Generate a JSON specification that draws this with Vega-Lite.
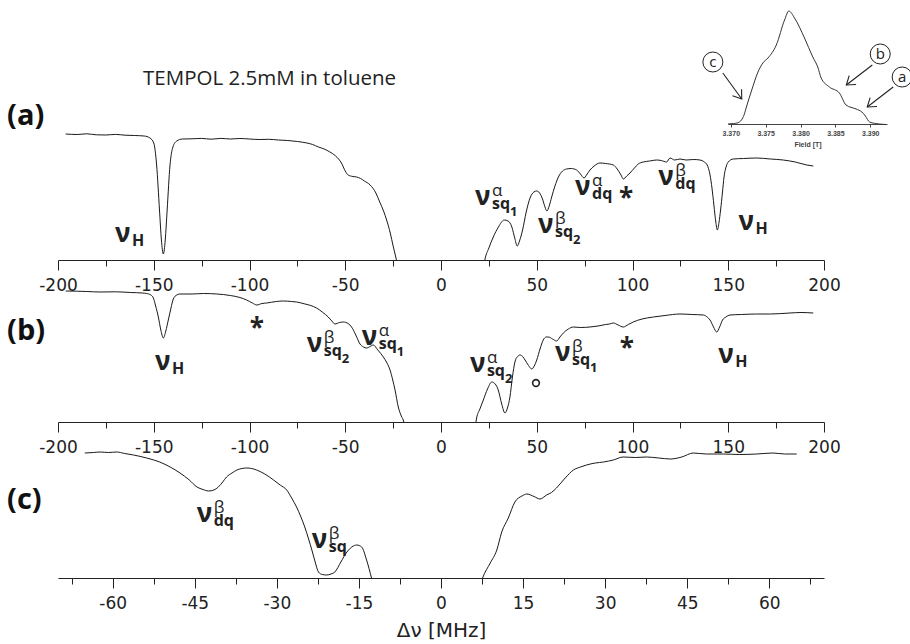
{
  "$schema": "https://vega.github.io/schema/vega-lite/v6.json",
  "padding": {"left": 7, "top": 8, "right": 0, "bottom": 0},
  "background": "white",
  "bounds": "flush",
  "spacing": 0,
  "config": {"view": {"stroke": null}, "axis": {"grid": false}},
  "datasets": {
    "traceA": [
      {"v":-196,"I":1.26},{"v":-190,"I":1.255},{"v":-185,"I":1.262},{"v":-180,"I":1.252},{"v":-175,"I":1.25},{"v":-170,"I":1.256},{"v":-165,"I":1.248},{"v":-160,"I":1.245},{"v":-155,"I":1.24},{"v":-152,"I":1.22},{"v":-150,"I":1.17},{"v":-148.5,"I":0.95},{"v":-147,"I":0.5},{"v":-146,"I":0.2},{"v":-145,"I":0.06},{"v":-144,"I":0.2},{"v":-143,"I":0.5},{"v":-141.5,"I":0.95},{"v":-140,"I":1.13},{"v":-138,"I":1.19},{"v":-135,"I":1.21},{"v":-130,"I":1.212},{"v":-125,"I":1.216},{"v":-120,"I":1.208},{"v":-115,"I":1.216},{"v":-110,"I":1.21},{"v":-105,"I":1.215},{"v":-100,"I":1.21},{"v":-95,"I":1.205},{"v":-90,"I":1.207},{"v":-85,"I":1.2},{"v":-80,"I":1.195},{"v":-75,"I":1.185},{"v":-70,"I":1.17},{"v":-67,"I":1.155},{"v":-64,"I":1.13},{"v":-61,"I":1.11},{"v":-58,"I":1.08},{"v":-55,"I":1.04},{"v":-52,"I":0.97},{"v":-50,"I":0.89},{"v":-48.5,"I":0.85},{"v":-46,"I":0.835},{"v":-44,"I":0.83},{"v":-42,"I":0.815},{"v":-40,"I":0.79},{"v":-37,"I":0.75},{"v":-34,"I":0.67},{"v":-32,"I":0.58},{"v":-30,"I":0.49},{"v":-28.4,"I":0.4},{"v":-26.5,"I":0.27},{"v":-25,"I":0.14},{"v":-23.5,"I":0.02},{"v":-22,"I":-0.12},{"v":0,"I":-1},{"v":22,"I":-0.1},{"v":23,"I":0.01},{"v":25,"I":0.12},{"v":27.3,"I":0.23},{"v":30,"I":0.33},{"v":33,"I":0.4},{"v":35,"I":0.39},{"v":37,"I":0.33},{"v":38.5,"I":0.22},{"v":39.8,"I":0.14},{"v":41,"I":0.19},{"v":42.6,"I":0.3},{"v":44.5,"I":0.48},{"v":46.5,"I":0.62},{"v":48.5,"I":0.68},{"v":50,"I":0.69},{"v":51.5,"I":0.67},{"v":53,"I":0.61},{"v":54.3,"I":0.53},{"v":55.3,"I":0.49},{"v":56.5,"I":0.54},{"v":57.8,"I":0.63},{"v":59.5,"I":0.74},{"v":61.3,"I":0.83},{"v":63.5,"I":0.89},{"v":65.6,"I":0.91},{"v":68,"I":0.915},{"v":70.8,"I":0.9},{"v":72.8,"I":0.86},{"v":74.7,"I":0.82},{"v":76,"I":0.85},{"v":77.8,"I":0.9},{"v":80,"I":0.94},{"v":83,"I":0.97},{"v":86,"I":0.965},{"v":90,"I":0.95},{"v":92,"I":0.91},{"v":94,"I":0.85},{"v":95.2,"I":0.81},{"v":97,"I":0.84},{"v":98.7,"I":0.87},{"v":101,"I":0.92},{"v":103,"I":0.96},{"v":105.6,"I":0.98},{"v":109,"I":0.99},{"v":112.6,"I":1.0},{"v":115,"I":0.995},{"v":117.8,"I":0.98},{"v":119.6,"I":1.02},{"v":122,"I":1.0},{"v":124.8,"I":1.01},{"v":128,"I":1.0},{"v":132,"I":1.005},{"v":135.2,"I":1.0},{"v":137.5,"I":0.98},{"v":139,"I":0.95},{"v":140.5,"I":0.85},{"v":141.5,"I":0.72},{"v":142.5,"I":0.55},{"v":143.5,"I":0.38},{"v":144.3,"I":0.3},{"v":145.2,"I":0.38},{"v":146,"I":0.5},{"v":147,"I":0.68},{"v":147.8,"I":0.83},{"v":149,"I":0.94},{"v":150,"I":0.98},{"v":152.6,"I":1.01},{"v":158,"I":1.015},{"v":164.8,"I":1.02},{"v":172,"I":1.01},{"v":178.7,"I":1.0},{"v":185,"I":0.98},{"v":191,"I":0.95},{"v":194.4,"I":0.94}
    ],
    "traceB": [
      {"v":-196,"I":1.31},{"v":-190,"I":1.308},{"v":-185,"I":1.305},{"v":-178,"I":1.3},{"v":-170,"I":1.302},{"v":-162,"I":1.295},{"v":-156,"I":1.29},{"v":-153.7,"I":1.285},{"v":-151.5,"I":1.27},{"v":-150.2,"I":1.24},{"v":-149,"I":1.16},{"v":-147.6,"I":1.05},{"v":-146.3,"I":0.92},{"v":-145,"I":0.84},{"v":-143.7,"I":0.91},{"v":-142.4,"I":1.02},{"v":-141,"I":1.14},{"v":-139.8,"I":1.23},{"v":-138,"I":1.27},{"v":-136.3,"I":1.28},{"v":-130,"I":1.28},{"v":-124,"I":1.285},{"v":-117,"I":1.28},{"v":-110,"I":1.265},{"v":-105,"I":1.245},{"v":-101.5,"I":1.22},{"v":-98.5,"I":1.19},{"v":-96.2,"I":1.17},{"v":-93.5,"I":1.185},{"v":-91,"I":1.19},{"v":-86,"I":1.205},{"v":-82.3,"I":1.21},{"v":-78,"I":1.205},{"v":-75.4,"I":1.2},{"v":-71,"I":1.18},{"v":-68,"I":1.165},{"v":-65,"I":1.14},{"v":-62,"I":1.1},{"v":-58.9,"I":1.05},{"v":-57,"I":1.01},{"v":-55.4,"I":0.98},{"v":-53,"I":0.995},{"v":-51,"I":1.0},{"v":-48.5,"I":0.985},{"v":-46.7,"I":0.95},{"v":-44.5,"I":0.87},{"v":-42.3,"I":0.78},{"v":-40.5,"I":0.75},{"v":-38.8,"I":0.74},{"v":-37,"I":0.755},{"v":-35.4,"I":0.77},{"v":-33,"I":0.72},{"v":-30.1,"I":0.65},{"v":-28.2,"I":0.59},{"v":-26.6,"I":0.52},{"v":-25.2,"I":0.42},{"v":-24,"I":0.32},{"v":-22.3,"I":0.15},{"v":-20.5,"I":0.05},{"v":-19.7,"I":0.02},{"v":-18.5,"I":-0.1},{"v":0,"I":-1},{"v":17.5,"I":-0.1},{"v":18.6,"I":0.04},{"v":20.3,"I":0.13},{"v":22.1,"I":0.22},{"v":24.3,"I":0.33},{"v":26.5,"I":0.4},{"v":28.3,"I":0.38},{"v":29.9,"I":0.32},{"v":31.7,"I":0.18},{"v":33.4,"I":0.09},{"v":34.7,"I":0.14},{"v":36,"I":0.25},{"v":37.3,"I":0.45},{"v":38.6,"I":0.6},{"v":40,"I":0.655},{"v":41.3,"I":0.67},{"v":42.6,"I":0.655},{"v":43.9,"I":0.62},{"v":45.7,"I":0.565},{"v":47.4,"I":0.53},{"v":48.7,"I":0.56},{"v":50,"I":0.62},{"v":51.7,"I":0.73},{"v":53.4,"I":0.82},{"v":55,"I":0.85},{"v":56,"I":0.85},{"v":58.3,"I":0.83},{"v":60.4,"I":0.81},{"v":62.1,"I":0.85},{"v":63.9,"I":0.89},{"v":66.5,"I":0.93},{"v":69.1,"I":0.95},{"v":73,"I":0.945},{"v":77.8,"I":0.95},{"v":82,"I":0.96},{"v":86,"I":0.975},{"v":88,"I":0.98},{"v":90,"I":0.99},{"v":92.5,"I":0.97},{"v":95.2,"I":0.95},{"v":97.8,"I":0.975},{"v":100.4,"I":1.0},{"v":105,"I":1.03},{"v":110.9,"I":1.05},{"v":117,"I":1.065},{"v":124.8,"I":1.08},{"v":131,"I":1.075},{"v":137,"I":1.07},{"v":139,"I":1.05},{"v":140.5,"I":1.02},{"v":142.3,"I":0.95},{"v":144,"I":0.9},{"v":145.5,"I":0.95},{"v":147,"I":1.02},{"v":148.8,"I":1.05},{"v":150.9,"I":1.07},{"v":157,"I":1.075},{"v":164.8,"I":1.08},{"v":172,"I":1.08},{"v":182.2,"I":1.09},{"v":188,"I":1.095},{"v":194.4,"I":1.09}
    ],
    "traceC": [
      {"v":-65.1,"I":1.25},{"v":-63.5,"I":1.255},{"v":-62.3,"I":1.26},{"v":-60.8,"I":1.255},{"v":-59.3,"I":1.26},{"v":-57.8,"I":1.245},{"v":-56.2,"I":1.23},{"v":-53.8,"I":1.2},{"v":-51.4,"I":1.16},{"v":-49.5,"I":1.11},{"v":-47.7,"I":1.05},{"v":-46,"I":0.98},{"v":-44.6,"I":0.91},{"v":-43.5,"I":0.885},{"v":-42.5,"I":0.87},{"v":-41.5,"I":0.88},{"v":-40.7,"I":0.91},{"v":-39.9,"I":0.96},{"v":-39.2,"I":1.01},{"v":-38.2,"I":1.05},{"v":-37.3,"I":1.08},{"v":-36.4,"I":1.095},{"v":-35.5,"I":1.1},{"v":-34.6,"I":1.095},{"v":-33.7,"I":1.08},{"v":-32.2,"I":1.04},{"v":-30.6,"I":0.98},{"v":-29.4,"I":0.93},{"v":-28.2,"I":0.88},{"v":-27.3,"I":0.8},{"v":-26.4,"I":0.71},{"v":-25.6,"I":0.61},{"v":-24.9,"I":0.51},{"v":-24.2,"I":0.39},{"v":-23.6,"I":0.28},{"v":-23,"I":0.16},{"v":-22.4,"I":0.06},{"v":-21.7,"I":0.035},{"v":-20.9,"I":0.03},{"v":-20.1,"I":0.04},{"v":-19.4,"I":0.06},{"v":-18.3,"I":0.16},{"v":-17.2,"I":0.26},{"v":-16.3,"I":0.31},{"v":-15.4,"I":0.33},{"v":-14.5,"I":0.31},{"v":-13.6,"I":0.18},{"v":-12.7,"I":0.0},{"v":-12,"I":-0.15},{"v":0,"I":-1},{"v":7,"I":-0.1},{"v":7.6,"I":0.0},{"v":9,"I":0.15},{"v":10.2,"I":0.28},{"v":11.1,"I":0.46},{"v":12.3,"I":0.6},{"v":13.5,"I":0.76},{"v":14.8,"I":0.82},{"v":15.7,"I":0.84},{"v":17,"I":0.815},{"v":18.1,"I":0.79},{"v":19.3,"I":0.83},{"v":20.2,"I":0.855},{"v":21.1,"I":0.9},{"v":22.7,"I":1.0},{"v":24.2,"I":1.08},{"v":25.5,"I":1.11},{"v":26.6,"I":1.13},{"v":28.2,"I":1.15},{"v":29.7,"I":1.16},{"v":31.5,"I":1.18},{"v":33.3,"I":1.21},{"v":35.5,"I":1.205},{"v":37.6,"I":1.21},{"v":39.8,"I":1.2},{"v":41.9,"I":1.19},{"v":44,"I":1.21},{"v":46.1,"I":1.25},{"v":48.5,"I":1.24},{"v":51.6,"I":1.24},{"v":54.5,"I":1.235},{"v":57.7,"I":1.24},{"v":60.7,"I":1.25},{"v":62.8,"I":1.24},{"v":65,"I":1.24}
    ],
    "inset": [
      {"f":3.3696,"J":0.0},{"f":3.3704,"J":0.005},{"f":3.3709,"J":0.01},{"f":3.37153,"J":0.04},{"f":3.3719,"J":0.09},{"f":3.37224,"J":0.17},{"f":3.37296,"J":0.33},{"f":3.3739,"J":0.52},{"f":3.3746,"J":0.61},{"f":3.37533,"J":0.66},{"f":3.37653,"J":0.79},{"f":3.37771,"J":1.04},{"f":3.37833,"J":1.13},{"f":3.37914,"J":1.06},{"f":3.38057,"J":0.86},{"f":3.38176,"J":0.67},{"f":3.38247,"J":0.57},{"f":3.38296,"J":0.46},{"f":3.38414,"J":0.37},{"f":3.38557,"J":0.31},{"f":3.38653,"J":0.19},{"f":3.38796,"J":0.15},{"f":3.3888,"J":0.12},{"f":3.3893,"J":0.08},{"f":3.3899,"J":0.02},{"f":3.3913,"J":0.0},{"f":3.3923,"J":-0.005}
    ],
    "circles": [
      {"f":3.36743,"J":0.62,"t":"c"},{"f":3.39143,"J":0.70,"t":"b"},{"f":3.39457,"J":0.47,"t":"a"}
    ],
    "arrows": [
      {"id":"c","f":3.36886,"J":0.51,"f2":3.37157,"J2":0.25},
      {"id":"b","f":3.39029,"J":0.59,"f2":3.38657,"J2":0.39},
      {"id":"a","f":3.39329,"J":0.37,"f2":3.38957,"J2":0.17}
    ],
    "labA": [
      {"v":-170.2,"I":0.18,"sup":"","sub":"H","ss":""},
      {"v":155.3,"I":0.30,"sup":"","sub":"H","ss":""},
      {"v":17.75,"I":0.55,"sup":"α","sub":"sq","ss":"1"},
      {"v":50.65,"I":0.27,"sup":"β","sub":"sq","ss":"2"},
      {"v":70.0,"I":0.65,"sup":"α","sub":"dq","ss":""},
      {"v":113.5,"I":0.75,"sup":"β","sub":"dq","ss":""}
    ],
    "labB": [
      {"v":-149.3,"I":0.52,"sup":"","sub":"H","ss":""},
      {"v":-70.1,"I":0.70,"sup":"β","sub":"sq","ss":"2"},
      {"v":-41.4,"I":0.77,"sup":"α","sub":"sq","ss":"1"},
      {"v":15.1,"I":0.50,"sup":"α","sub":"sq","ss":"2"},
      {"v":59.5,"I":0.61,"sup":"β","sub":"sq","ss":"1"},
      {"v":144.8,"I":0.59,"sup":"","sub":"H","ss":""}
    ],
    "labC": [
      {"v":-44.65,"I":0.56,"sup":"β","sub":"dq","ss":""},
      {"v":-23.6,"I":0.30,"sup":"β","sub":"sq","ss":""}
    ]
  },
  "vconcat": [
    {
      "width": 766,
      "height": 252,
      "layer": [
        {
          "encoding": {
            "x": {"field": "v", "type": "quantitative", "scale": {"domain": [-200, 200], "nice": false, "zero": false},
              "axis": {"values": [-200,-175,-150,-125,-100,-75,-50,-25,0,25,50,75,100,125,150,175,200], "labelExpr": "datum.value % 50 === 0 ? '' + datum.value : ''", "tickSize": {"condition": {"test": "datum.value % 50 === 0", "value": 10}, "value": 6}, "labelPadding": 7, "labelFont": "DejaVu Sans", "labelFontSize": 17, "labelColor": "#222", "domainColor": "#222", "tickColor": "#222", "title": null, "labelFlush": false, "labelOverlap": false, "grid": false}},
            "y": {"field": "I", "type": "quantitative", "scale": {"domain": [0, 2.52], "nice": false, "zero": false}, "axis": null}
          },
          "layer": [
            {"data": {"name": "traceA"}, "mark": {"type": "line", "clip": true, "strokeWidth": 1, "color": "#1a1a1a", "interpolate": "monotone"}},
            {"data": {"name": "labA"}, "mark": {"type": "text", "text": "ν", "font": "Open Sans", "fontWeight": "bold", "fontSize": 26, "align": "left", "baseline": "alphabetic", "color": "#222"}},
            {"data": {"name": "labA"}, "mark": {"type": "text", "font": "Open Sans", "fontSize": 17, "align": "left", "baseline": "alphabetic", "dx": 17, "dy": -9, "color": "#222"}, "encoding": {"text": {"field": "sup"}}},
            {"data": {"name": "labA"}, "mark": {"type": "text", "font": "Open Sans", "fontWeight": "bold", "fontSize": 16, "align": "left", "baseline": "alphabetic", "dx": 17, "dy": 4, "color": "#222"}, "encoding": {"text": {"field": "sub"}}},
            {"data": {"name": "labA"}, "mark": {"type": "text", "font": "Open Sans", "fontWeight": "bold", "fontSize": 13, "align": "left", "baseline": "alphabetic", "dx": 35, "dy": 11, "color": "#222"}, "encoding": {"text": {"field": "ss"}}},
            {"data": {"values": [{"v": 96.6, "I": 0.53, "t": "*"}]}, "mark": {"type": "text", "font": "Open Sans", "fontWeight": "bold", "fontSize": 26, "align": "center", "baseline": "alphabetic", "color": "#222"}, "encoding": {"text": {"field": "t"}}},
            {"data": {"values": [{"v": -226.6, "I": 1.35, "t": "(a)"}]}, "mark": {"type": "text", "font": "Open Sans", "fontWeight": "bold", "fontSize": 29, "align": "left", "baseline": "alphabetic", "color": "#111"}, "encoding": {"text": {"field": "t"}}},
            {"data": {"values": [{"v": -155.6, "I": 1.75, "t": "TEMPOL 2.5mM in toluene"}]}, "mark": {"type": "text", "font": "Open Sans", "fontSize": 20.5, "align": "left", "baseline": "alphabetic", "color": "#222"}, "encoding": {"text": {"field": "t"}}}
          ]
        },
        {
          "encoding": {
            "x": {"field": "f", "type": "quantitative", "scale": {"domain": [3.3696, 3.3924], "range": [670, 829], "nice": false, "zero": false},
              "axis": {"orient": "bottom", "offset": -136, "values": [3.37, 3.375, 3.38, 3.385, 3.39], "format": ".3f", "tickSize": 3, "labelFont": "Liberation Sans", "labelFontSize": 7, "labelFontWeight": "bold", "labelColor": "#444", "labelPadding": 2, "title": "Field [T]", "titleFont": "Liberation Sans", "titleFontSize": 7, "titleFontWeight": "bold", "titleColor": "#444", "titlePadding": 4, "domainColor": "#444", "tickColor": "#444", "labelFlush": false, "labelOverlap": false, "grid": false}},
            "y": {"field": "J", "type": "quantitative", "scale": {"domain": [0, 1], "range": [116, 16], "nice": false, "zero": false}, "axis": null}
          },
          "layer": [
            {"data": {"name": "inset"}, "mark": {"type": "line", "strokeWidth": 1, "color": "#333", "interpolate": "monotone"}},
            {"data": {"name": "circles"}, "mark": {"type": "point", "shape": "circle", "size": 400, "filled": false, "stroke": "#222", "strokeWidth": 1, "opacity": 1}},
            {"data": {"name": "circles"}, "mark": {"type": "text", "font": "Open Sans", "fontSize": 15, "align": "center", "baseline": "middle", "color": "#222"}, "encoding": {"text": {"field": "t"}}},
            {"data": {"name": "arrows"}, "mark": {"type": "rule", "strokeWidth": 1.1, "color": "#222"}, "encoding": {"x2": {"field": "f2"}, "y2": {"field": "J2"}}},
            {"data": {"name": "arrows"}, "transform": [{"filter": "datum.id === 'c'"}], "mark": {"type": "point", "shape": "M -1 -0.7 L 0 0 L -1 0.7", "size": 256, "filled": false, "stroke": "#222", "strokeWidth": 1.1, "angle": 54, "opacity": 1}, "encoding": {"x": {"field": "f2", "type": "quantitative"}, "y": {"field": "J2", "type": "quantitative"}}},
            {"data": {"name": "arrows"}, "transform": [{"filter": "datum.id !== 'c'"}], "mark": {"type": "point", "shape": "M -1 -0.7 L 0 0 L -1 0.7", "size": 256, "filled": false, "stroke": "#222", "strokeWidth": 1.1, "angle": 142, "opacity": 1}, "encoding": {"x": {"field": "f2", "type": "quantitative"}, "y": {"field": "J2", "type": "quantitative"}}}
          ]
        }
      ],
      "resolve": {"scale": {"x": "independent", "y": "independent"}, "axis": {"x": "independent", "y": "independent"}}
    },
    {
      "width": 766,
      "height": 162,
      "encoding": {
        "x": {"field": "v", "type": "quantitative", "scale": {"domain": [-200, 200], "nice": false, "zero": false},
          "axis": {"values": [-200,-175,-150,-125,-100,-75,-50,-25,0,25,50,75,100,125,150,175,200], "labelExpr": "datum.value % 50 === 0 ? '' + datum.value : ''", "tickSize": {"condition": {"test": "datum.value % 50 === 0", "value": 10}, "value": 6}, "labelPadding": 7, "labelFont": "DejaVu Sans", "labelFontSize": 17, "labelColor": "#222", "domainColor": "#222", "tickColor": "#222", "title": null, "labelFlush": false, "labelOverlap": false, "grid": false}},
        "y": {"field": "I", "type": "quantitative", "scale": {"domain": [0, 1.62], "nice": false, "zero": false}, "axis": null}
      },
      "layer": [
        {"data": {"name": "traceB"}, "mark": {"type": "line", "clip": true, "strokeWidth": 1, "color": "#1a1a1a", "interpolate": "monotone"}},
        {"data": {"name": "labB"}, "mark": {"type": "text", "text": "ν", "font": "Open Sans", "fontWeight": "bold", "fontSize": 26, "align": "left", "baseline": "alphabetic", "color": "#222"}},
        {"data": {"name": "labB"}, "mark": {"type": "text", "font": "Open Sans", "fontSize": 17, "align": "left", "baseline": "alphabetic", "dx": 17, "dy": -9, "color": "#222"}, "encoding": {"text": {"field": "sup"}}},
        {"data": {"name": "labB"}, "mark": {"type": "text", "font": "Open Sans", "fontWeight": "bold", "fontSize": 16, "align": "left", "baseline": "alphabetic", "dx": 17, "dy": 4, "color": "#222"}, "encoding": {"text": {"field": "sub"}}},
        {"data": {"name": "labB"}, "mark": {"type": "text", "font": "Open Sans", "fontWeight": "bold", "fontSize": 13, "align": "left", "baseline": "alphabetic", "dx": 35, "dy": 11, "color": "#222"}, "encoding": {"text": {"field": "ss"}}},
        {"data": {"values": [{"v": -96.2, "I": 0.85, "t": "*"}, {"v": 97.0, "I": 0.65, "t": "*"}]}, "mark": {"type": "text", "font": "Open Sans", "fontWeight": "bold", "fontSize": 26, "align": "center", "baseline": "alphabetic", "color": "#222"}, "encoding": {"text": {"field": "t"}}},
        {"data": {"values": [{"v": 49.6, "I": 0.39}]}, "mark": {"type": "point", "shape": "circle", "size": 45, "filled": false, "stroke": "#222", "strokeWidth": 1.6, "opacity": 1}},
        {"data": {"values": [{"v": -226.6, "I": 0.82, "t": "(b)"}]}, "mark": {"type": "text", "font": "Open Sans", "fontWeight": "bold", "fontSize": 29, "align": "left", "baseline": "alphabetic", "color": "#111"}, "encoding": {"text": {"field": "t"}}}
      ]
    },
    {
      "width": 766,
      "height": 156,
      "encoding": {
        "x": {"field": "v", "type": "quantitative", "scale": {"domain": [-70, 70], "nice": false, "zero": false},
          "axis": {"values": [-67.5,-60,-52.5,-45,-37.5,-30,-22.5,-15,-7.5,0,7.5,15,22.5,30,37.5,45,52.5,60,67.5], "labelExpr": "datum.value % 15 === 0 ? '' + datum.value : ''", "tickSize": {"condition": {"test": "datum.value % 15 === 0", "value": 10}, "value": 6}, "labelPadding": 7, "labelFont": "DejaVu Sans", "labelFontSize": 17, "labelColor": "#222", "domainColor": "#222", "tickColor": "#222", "title": "Δν [MHz]", "titleFont": "DejaVu Sans", "titleFontSize": 20, "titleFontWeight": "normal", "titleColor": "#222", "titlePadding": 9, "labelFlush": false, "labelOverlap": false, "grid": false}},
        "y": {"field": "I", "type": "quantitative", "scale": {"domain": [0, 1.56], "nice": false, "zero": false}, "axis": null}
      },
      "layer": [
        {"data": {"name": "traceC"}, "mark": {"type": "line", "clip": true, "strokeWidth": 1, "color": "#1a1a1a", "interpolate": "monotone"}},
        {"data": {"name": "labC"}, "mark": {"type": "text", "text": "ν", "font": "Open Sans", "fontWeight": "bold", "fontSize": 26, "align": "left", "baseline": "alphabetic", "color": "#222"}},
        {"data": {"name": "labC"}, "mark": {"type": "text", "font": "Open Sans", "fontSize": 17, "align": "left", "baseline": "alphabetic", "dx": 17, "dy": -9, "color": "#222"}, "encoding": {"text": {"field": "sup"}}},
        {"data": {"name": "labC"}, "mark": {"type": "text", "font": "Open Sans", "fontWeight": "bold", "fontSize": 16, "align": "left", "baseline": "alphabetic", "dx": 17, "dy": 4, "color": "#222"}, "encoding": {"text": {"field": "sub"}}},
        {"data": {"values": [{"v": -79.3, "I": 0.69, "t": "(c)"}]}, "mark": {"type": "text", "font": "Open Sans", "fontWeight": "bold", "fontSize": 29, "align": "left", "baseline": "alphabetic", "color": "#111"}, "encoding": {"text": {"field": "t"}}}
      ]
    }
  ]
}
